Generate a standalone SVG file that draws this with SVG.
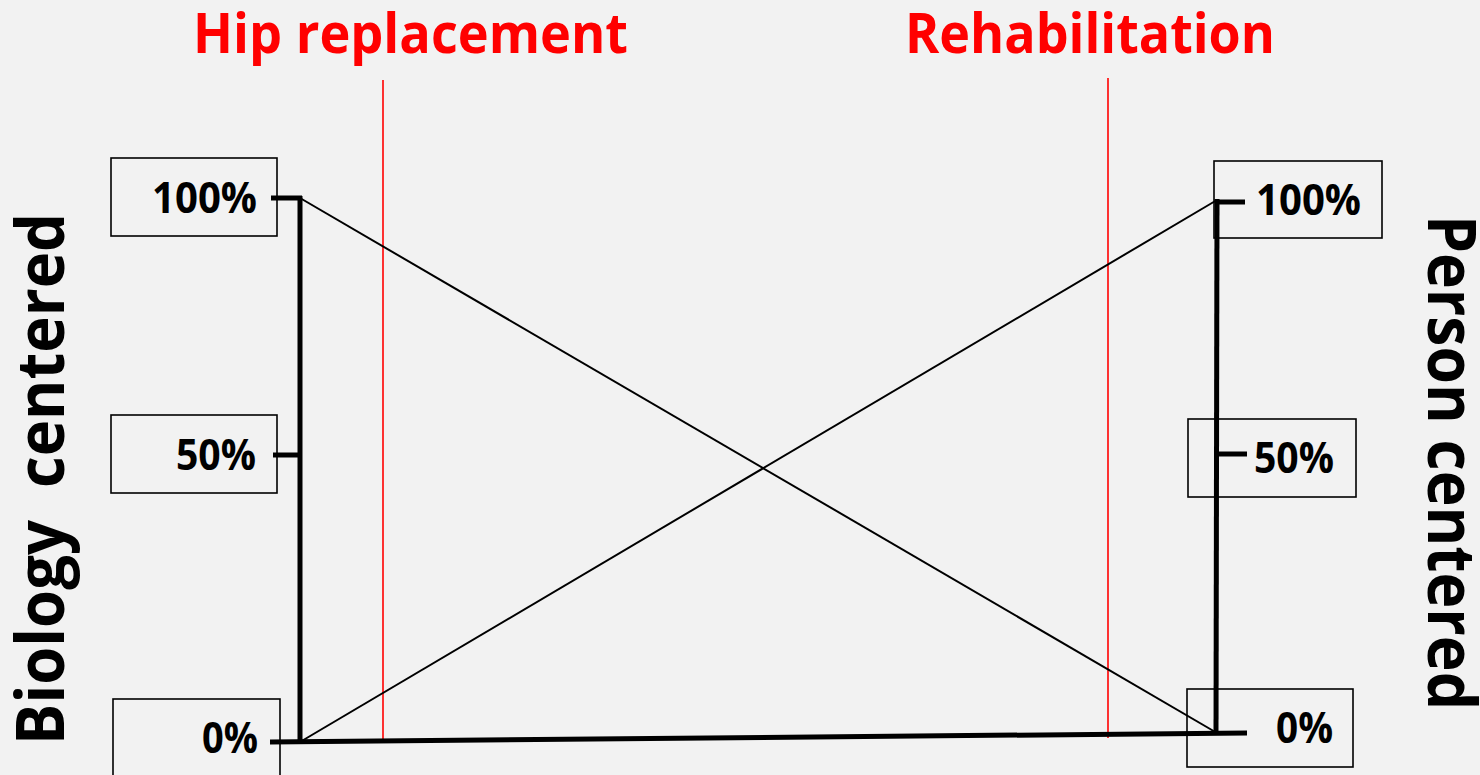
<svg xmlns="http://www.w3.org/2000/svg" width="1480" height="775" viewBox="0 0 1480 775">
<style>
.box{fill:none;stroke:#000;stroke-width:1.6}
.num{font-family:"Open Sans","Liberation Sans",sans-serif;font-weight:bold;font-size:43px;fill:#000}
.title{font-family:"Open Sans","Liberation Sans",sans-serif;font-weight:bold;font-size:56px;fill:#ff0000}
.side{font-family:"Open Sans","Liberation Sans",sans-serif;font-weight:bold;font-size:66px;fill:#000;white-space:pre}
.axis{stroke:#000;stroke-width:5;fill:none;stroke-linecap:butt}
.diag{stroke:#000;stroke-width:2;fill:none}
.red{stroke:#ff0000;stroke-width:1.6;fill:none}
</style>
<rect width="1480" height="775" fill="#f2f2f2"/>
<g id="title-hip"><text class="title" x="193" y="53" textLength="435" lengthAdjust="spacingAndGlyphs">Hip replacement</text></g>
<g id="title-rehab"><text class="title" x="905" y="53" textLength="370" lengthAdjust="spacingAndGlyphs">Rehabilitation</text></g>
<g id="label-biology"><text class="side" transform="translate(64,745) rotate(-90)" textLength="532" lengthAdjust="spacingAndGlyphs">Biology  centered</text></g>
<g id="label-person"><text class="side" transform="translate(1428,215) rotate(90)" textLength="495" lengthAdjust="spacingAndGlyphs">Person centered</text></g>
<g id="left-100"><rect class="box" x="111" y="158" width="166" height="78"/><text class="num" x="152" y="213" textLength="105" lengthAdjust="spacingAndGlyphs">100%</text></g>
<g id="left-50"><rect class="box" x="111" y="415" width="166" height="78"/><text class="num" x="176" y="470" textLength="80" lengthAdjust="spacingAndGlyphs">50%</text></g>
<g id="left-0"><rect class="box" x="113" y="699" width="167" height="90"/><text class="num" x="202" y="753" textLength="56" lengthAdjust="spacingAndGlyphs">0%</text></g>
<g id="right-100"><rect class="box" x="1214" y="161" width="168" height="77"/><text class="num" x="1256" y="215" textLength="105" lengthAdjust="spacingAndGlyphs">100%</text></g>
<g id="right-50"><rect class="box" x="1188" y="419" width="168" height="78"/><text class="num" x="1254" y="473" textLength="80" lengthAdjust="spacingAndGlyphs">50%</text></g>
<g id="right-0"><rect class="box" x="1187" y="689" width="166" height="78"/><text class="num" x="1276" y="743" textLength="57" lengthAdjust="spacingAndGlyphs">0%</text></g>
<g id="connectors">
<line class="red" x1="383" y1="80" x2="383" y2="742"/>
<line class="red" x1="1108" y1="78" x2="1108" y2="738"/>
<line class="diag" x1="300" y1="198" x2="1217" y2="733"/>
<line class="diag" x1="300" y1="742" x2="1217" y2="200"/>
<line class="axis" x1="300" y1="196" x2="300" y2="744"/>
<line class="axis" x1="271" y1="198" x2="302" y2="198"/>
<line class="axis" x1="273" y1="455" x2="300" y2="455"/>
<line class="axis" x1="270" y1="742" x2="1247" y2="733"/>
<line class="axis" x1="1217" y1="199" x2="1216" y2="735"/>
<line class="axis" x1="1215" y1="202" x2="1245" y2="202"/>
<line class="axis" x1="1216" y1="454" x2="1247" y2="454"/>
</g>
</svg>
